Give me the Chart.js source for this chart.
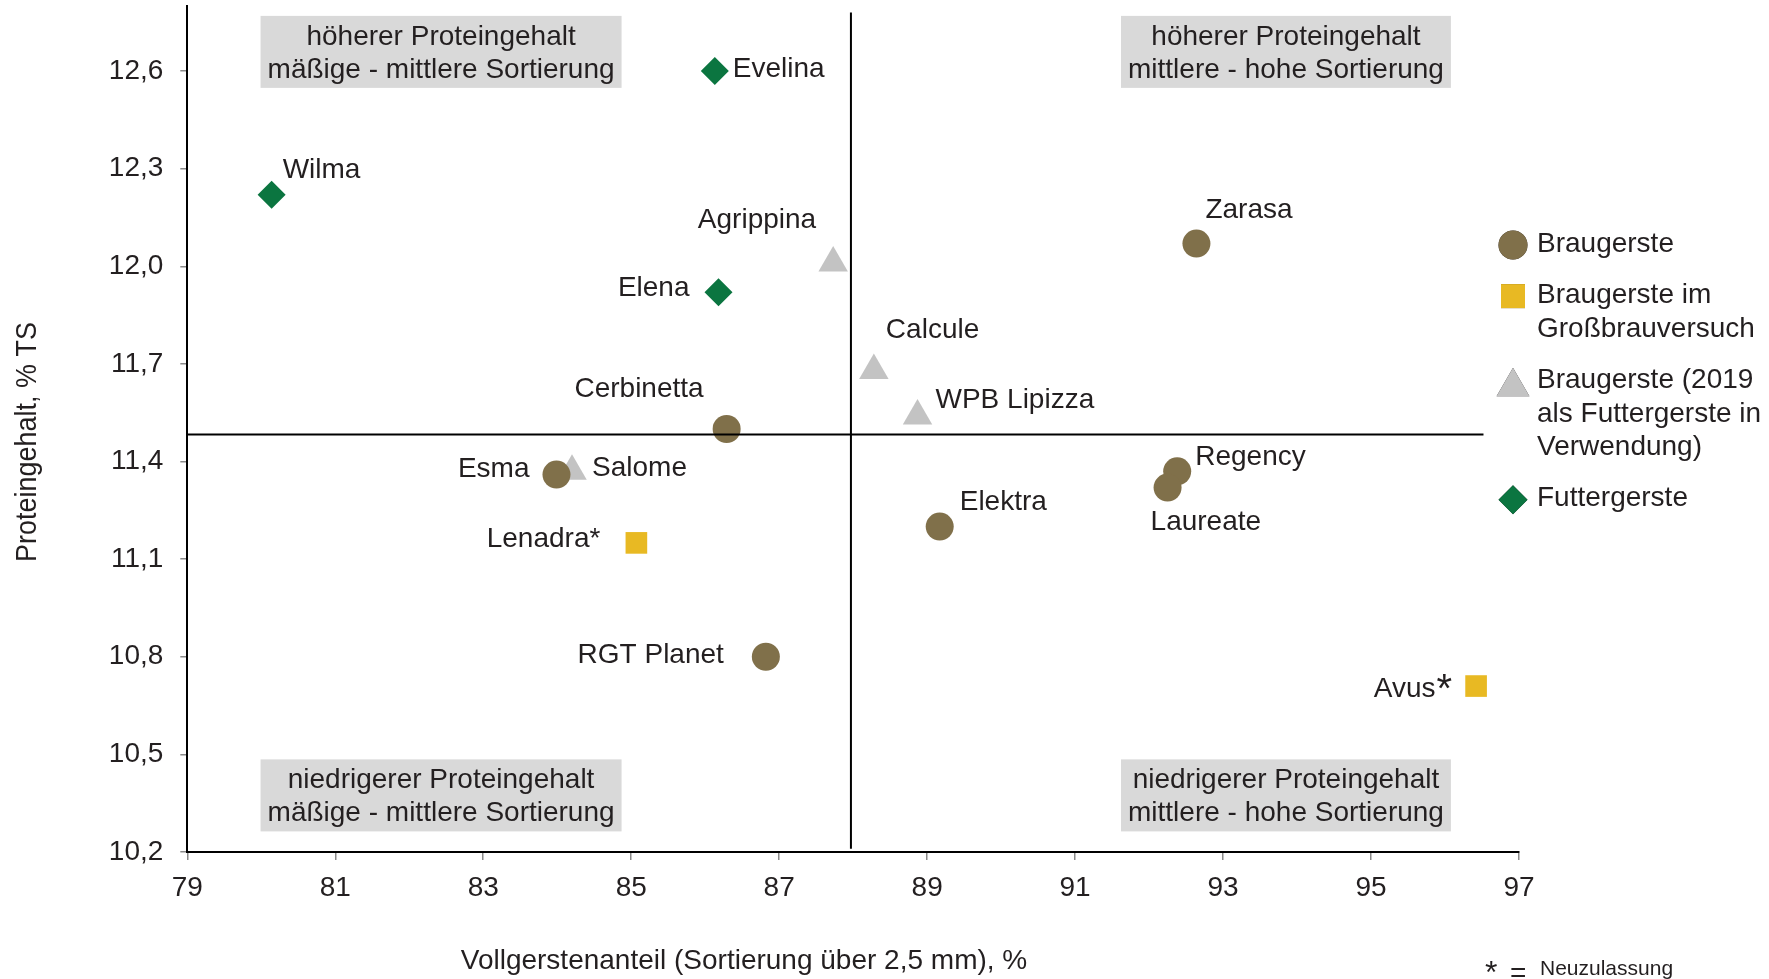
<!DOCTYPE html>
<html lang="de">
<head>
<meta charset="utf-8">
<title>Proteingehalt und Vollgerstenanteil</title>
<script src="https://cdn.jsdelivr.net/npm/chart.js@4.4.1/dist/chart.umd.min.js"></script>
<style>
  html, body { margin: 0; padding: 0; background: #fff; }
  #wrap { width: 1769px; height: 979px; }
</style>
</head>
<body>
<div id="wrap"><canvas id="chart" width="1769" height="979"></canvas></div>
<script>
// ---------------- Data ----------------
const braugersteNames = ["Zarasa", "Cerbinetta", "Esma", "Elektra", "Regency", "Laureate", "RGT Planet"];
const braugersteX = [92.64, 86.29, 83.99, 89.17, 92.38, 92.25, 86.82];
const braugersteY = [12.07, 11.50, 11.36, 11.20, 11.37, 11.32, 10.80];

const grossNames = ["Lenadra*", "Avus*"];
const grossX = [85.07, 96.42];
const grossY = [11.15, 10.71];

const futter2019Names = ["Agrippina", "Calcule", "WPB Lipizza", "Salome"];
const futter2019X = [87.73, 88.28, 88.87, 84.20];
const futter2019Y = [12.01, 11.68, 11.54, 11.37];

const futterNames = ["Evelina", "Wilma", "Elena"];
const futterX = [86.13, 80.14, 86.18];
const futterY = [12.60, 12.22, 11.92];

const seriesLabels = [
  ["Braugerste"],
  ["Braugerste im", "Großbrauversuch"],
  ["Braugerste (2019", "als Futtergerste in", "Verwendung)"],
  ["Futtergerste"]
];

const xTicks = [79, 81, 83, 85, 87, 89, 91, 93, 95, 97];
const yTicks = [10.2, 10.5, 10.8, 11.1, 11.4, 11.7, 12.0, 12.3, 12.6];
const xRange = [79, 97];
const yRange = [10.2, 12.8];

// Trennlinien der Quadranten
const splitX = 87.97;
const splitY = 11.483;

const quadrantNotes = [
  { lines: ["höherer Proteingehalt", "mäßige - mittlere Sortierung"], at: [82.43, 12.659] },
  { lines: ["höherer Proteingehalt", "mittlere - hohe Sortierung"], at: [93.85, 12.659] },
  { lines: ["niedrigerer Proteingehalt", "mäßige - mittlere Sortierung"], at: [82.43, 10.374] },
  { lines: ["niedrigerer Proteingehalt", "mittlere - hohe Sortierung"], at: [93.85, 10.374] }
];

// ---------------- Styles ----------------
const FONT = "'Liberation Sans', Arial, Helvetica, sans-serif";
const TEXT = "#231f20";

const styles = [
  { color: "#80704a", pointStyle: "circle", radius: 14, legendRadius: 14.5 },
  { color: "#e8b923", pointStyle: "rect", radius: 15.3, legendRadius: 17 },
  { color: "#c3c3c3", pointStyle: "triangle", radius: 17, legendRadius: 19 },
  { color: "#0b7540", pointStyle: "rectRot", radius: 14, legendRadius: 14.5 }
];

// label placement relative to the marker (px)
const labelPlace = {
  "Zarasa":      { dx: 9,   dy: -33, align: "left" },
  "Cerbinetta":  { dx: -23, dy: -40, align: "right" },
  "Esma":        { dx: -27, dy: -5,  align: "right" },
  "Elektra":     { dx: 20,  dy: -24, align: "left" },
  "Regency":     { dx: 18,  dy: -14, align: "left" },
  "Laureate":    { dx: -17, dy: 35,  align: "left" },
  "RGT Planet":  { dx: -42, dy: -1,  align: "right" },
  "Lenadra*":    { dx: -36, dy: -4,  align: "right" },
  "Avus*":       { dx: -24, dy: 3,   align: "right", bigStar: true },
  "Agrippina":   { dx: -17, dy: -43, align: "right" },
  "Calcule":     { dx: 12,  dy: -40, align: "left" },
  "WPB Lipizza": { dx: 18,  dy: -16, align: "left" },
  "Salome":      { dx: 20,  dy: -3,  align: "left" },
  "Evelina":     { dx: 18,  dy: -2,  align: "left" },
  "Wilma":       { dx: 11,  dy: -24, align: "left" },
  "Elena":       { dx: -29, dy: -4,  align: "right" }
};

// ---------------- Helpers ----------------
function toPoints(xs, ys) {
  return xs.map((x, i) => ({ x, y: ys[i] }));
}

function drawMarker(ctx, style, radius, x, y) {
  Chart.helpers.drawPoint(ctx, {
    pointStyle: style.pointStyle,
    radius: radius,
    rotation: 0,
    borderWidth: 0
  }, x, y);
  ctx.fillStyle = style.color;
  ctx.fill();
}

const series = [
  { names: braugersteNames, xs: braugersteX, ys: braugersteY },
  { names: grossNames, xs: grossX, ys: grossY },
  { names: futter2019Names, xs: futter2019X, ys: futter2019Y },
  { names: futterNames, xs: futterX, ys: futterY }
];

// ---------------- Decorations ----------------
const decorPlugin = {
  id: "decor",
  afterDatasetsDraw(chart) {
    const { ctx, scales: { x, y } } = chart;
    ctx.save();

    // quadrant lines
    ctx.strokeStyle = "#000";
    ctx.lineWidth = 2;
    ctx.beginPath();
    const vx = x.getPixelForValue(splitX);
    ctx.moveTo(vx, y.getPixelForValue(12.78));
    ctx.lineTo(vx, y.getPixelForValue(10.21));
    const hy = y.getPixelForValue(splitY);
    ctx.moveTo(x.getPixelForValue(xRange[0]), hy);
    ctx.lineTo(x.getPixelForValue(96.52), hy);
    ctx.stroke();

    // quadrant boxes
    ctx.font = "28px " + FONT;
    ctx.textAlign = "center";
    ctx.textBaseline = "alphabetic";
    quadrantNotes.forEach(n => {
      const cx = x.getPixelForValue(n.at[0]);
      const cy = y.getPixelForValue(n.at[1]);
      const w = Math.max(...n.lines.map(l => ctx.measureText(l).width)) + 14;
      ctx.fillStyle = "#d9d9d9";
      ctx.fillRect(cx - w / 2, cy - 36, w, 72);
      ctx.fillStyle = TEXT;
      ctx.fillText(n.lines[0], cx, cy - 7);
      ctx.fillText(n.lines[1], cx, cy + 26);
    });

    // point labels
    ctx.textBaseline = "middle";
    series.forEach(s => {
      s.names.forEach((name, i) => {
        const p = labelPlace[name] || { dx: 12, dy: -20, align: "left" };
        const px = x.getPixelForValue(s.xs[i]) + p.dx;
        const py = y.getPixelForValue(s.ys[i]) + p.dy;
        ctx.fillStyle = TEXT;
        ctx.font = "28px " + FONT;
        if (p.bigStar) {
          const base = name.replace("*", "");
          ctx.font = "40px " + FONT;
          const sw = ctx.measureText("*").width;
          ctx.textAlign = "right";
          ctx.fillText("*", px, py + 2);
          ctx.font = "28px " + FONT;
          ctx.fillText(base, px - sw - 1, py);
        } else {
          ctx.textAlign = p.align;
          ctx.fillText(name, px, py);
        }
      });
    });

    // legend
    const mx = 1513, tx = 1537, lineH = 33.8, gap = 17.3;
    let ly = 244;
    ctx.font = "28px " + FONT;
    ctx.textAlign = "left";
    seriesLabels.forEach((lines, i) => {
      const st = styles[i];
      const my = st.pointStyle === "triangle" ? ly + st.legendRadius / 4 + 2 : ly + 1;
      drawMarker(ctx, st, st.legendRadius, mx, my);
      ctx.fillStyle = TEXT;
      lines.forEach((l, k) => ctx.fillText(l, tx, ly + k * lineH));
      ly += lines.length * lineH + gap;
    });

    // axis titles
    ctx.fillStyle = TEXT;
    ctx.textAlign = "center";
    ctx.textBaseline = "alphabetic";
    ctx.font = "28px " + FONT;
    ctx.fillText("Vollgerstenanteil (Sortierung über 2,5 mm), %", 744, 969);

    ctx.save();
    ctx.translate(28, 442);
    ctx.rotate(-Math.PI / 2);
    ctx.scale(0.93, 1);
    ctx.textBaseline = "middle";
    ctx.font = "29px " + FONT;
    ctx.fillText("Proteingehalt, % TS", 0, 0);
    ctx.restore();

    // footnote
    ctx.textAlign = "left";
    ctx.textBaseline = "alphabetic";
    ctx.font = "32px " + FONT;
    ctx.fillText("*", 1485, 983);
    ctx.font = "28px " + FONT;
    ctx.fillText("=", 1510, 982);
    ctx.font = "21px " + FONT;
    ctx.fillText("Neuzulassung", 1540, 975);

    ctx.restore();
  }
};

// ---------------- Chart ----------------
Chart.defaults.font.family = FONT;
Chart.defaults.color = TEXT;

const datasets = series.map((s, i) => ({
  label: seriesLabels[i].join(" "),
  data: toPoints(s.xs, s.ys),
  pointStyle: styles[i].pointStyle,
  pointRadius: styles[i].radius,
  pointHoverRadius: styles[i].radius,
  pointBackgroundColor: styles[i].color,
  pointBorderWidth: 0,
  showLine: false,
  clip: false
}));

new Chart(document.getElementById("chart"), {
  type: "scatter",
  data: { datasets },
  options: {
    responsive: false,
    animation: false,
    events: [],
    layout: { autoPadding: false, padding: { left: 0, right: 250, top: 6, bottom: 0 } },
    plugins: {
      legend: { display: false },
      tooltip: { enabled: false }
    },
    scales: {
      x: {
        type: "linear",
        min: xRange[0],
        max: xRange[1],
        afterBuildTicks: s => { s.ticks = xTicks.map(v => ({ value: v })); },
        afterFit: s => { s.height = 979 - 852; s.paddingLeft = 0; s.paddingRight = 0; },
        border: { display: true, color: "#000", width: 2 },
        grid: { drawOnChartArea: false, drawTicks: true, tickLength: 8, color: "#8a8a8a", lineWidth: 1.5 },
        ticks: { font: { size: 28 }, color: TEXT, padding: 11, maxRotation: 0, autoSkip: false, callback: v => String(v) }
      },
      y: {
        type: "linear",
        min: yRange[0],
        max: yRange[1],
        afterBuildTicks: s => { s.ticks = yTicks.map(v => ({ value: v })); },
        afterFit: s => { s.width = 187.3; s.paddingTop = 0; s.paddingBottom = 0; },
        border: { display: true, color: "#000", width: 2 },
        grid: { drawOnChartArea: false, drawTicks: true, tickLength: 7, color: "#8a8a8a", lineWidth: 1.5 },
        ticks: { font: { size: 28 }, color: TEXT, padding: 17, autoSkip: false, callback: v => v.toFixed(1).replace(".", ",") }
      }
    }
  },
  plugins: [decorPlugin]
});
</script>
</body>
</html>
